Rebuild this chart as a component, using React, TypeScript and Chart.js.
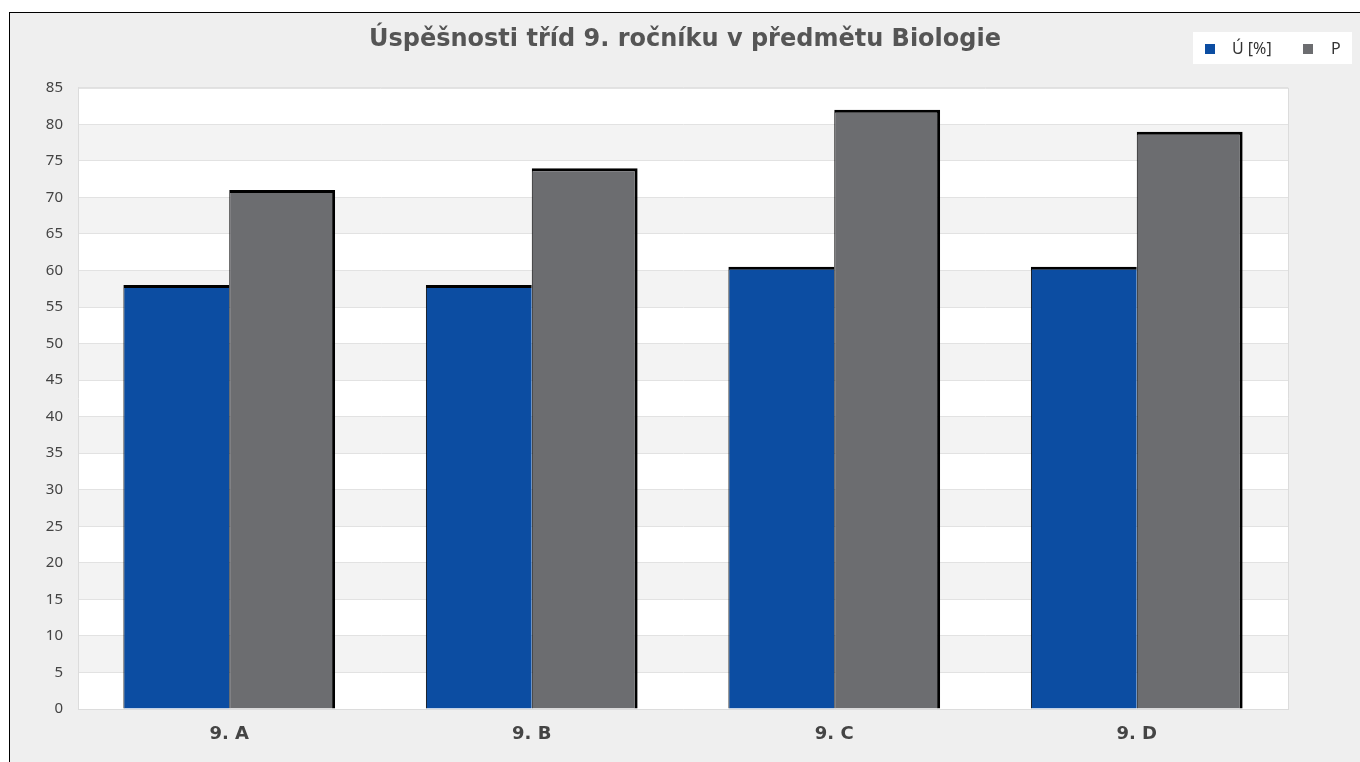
import React, { useEffect, useRef } from "react";
import { Chart, registerables } from "chart.js";

Chart.register(...registerables);

const categories = ["9. A", "9. B", "9. C", "9. D"];
const seriesU = [58, 58, 60.5, 60.5];
const seriesP = [71, 74, 82, 79];
const seriesLabels = ["Ú [%]", "P"];
const titleText = "Úspěšnosti tříd 9. ročníku v předmětu Biologie";

const bandsPlugin = {
  id: "bands",
  beforeDraw(chart: any) {
    const { ctx, chartArea, scales } = chart;
    const y = scales.y;
    ctx.save();
    for (let v = 0; v < 85; v += 5) {
      const top = y.getPixelForValue(v + 5);
      const bot = y.getPixelForValue(v);
      ctx.fillStyle = (v / 5) % 2 === 0 ? "#ffffff" : "#f3f3f3";
      ctx.fillRect(chartArea.left, top, chartArea.right - chartArea.left, bot - top);
    }
    ctx.restore();
  },
  afterDatasetsDraw(chart: any) {
    const { ctx, chartArea } = chart;
    ctx.save();
    ctx.strokeStyle = "#dcdcdc";
    ctx.lineWidth = 1;
    ctx.beginPath();
    ctx.moveTo(chartArea.right + 0.5, chartArea.top);
    ctx.lineTo(chartArea.right + 0.5, chartArea.bottom);
    ctx.moveTo(chartArea.left, chartArea.top + 0.5);
    ctx.lineTo(chartArea.right, chartArea.top + 0.5);
    ctx.stroke();
    ctx.restore();
  },
};

const legendPlugin = {
  id: "boxLegend",
  afterDraw(chart: any) {
    const { ctx } = chart;
    const ds = chart.data.datasets;
    ctx.save();
    ctx.fillStyle = "#ffffff";
    ctx.fillRect(1183, 19, 159, 32);
    ctx.font = "16px 'Noto Sans'";
    ctx.textBaseline = "middle";
    const squares = [1195, 1293];
    const texts = [1222, 1321];
    ds.forEach((d: any, i: number) => {
      ctx.fillStyle = d.backgroundColor;
      ctx.fillRect(squares[i], 31, 10, 10);
      ctx.fillStyle = "#333";
      ctx.fillText(d.label, texts[i], 36);
    });
    ctx.restore();
  },
};

export default function App() {
  const ref = useRef<HTMLCanvasElement>(null);
  useEffect(() => {
    if (!ref.current) return;
    const chart = new Chart(ref.current, {
      type: "bar",
      data: {
        labels: categories,
        datasets: [
          {
            label: seriesLabels[0],
            data: seriesU,
            backgroundColor: "#0c4da2",
            borderColor: "#000000",
            borderWidth: { top: 3, left: 1, right: 0, bottom: 0 },
            borderSkipped: false,
          },
          {
            label: seriesLabels[1],
            data: seriesP,
            backgroundColor: "#6c6d70",
            borderColor: "#000000",
            borderWidth: { top: 3, left: 1, right: 3, bottom: 0 },
            borderSkipped: false,
          },
        ],
      },
      plugins: [bandsPlugin, legendPlugin],
      options: {
        responsive: false,
        animation: false,
        layout: { padding: 0 },
        datasets: { bar: { categoryPercentage: 0.7, barPercentage: 1 } },
        plugins: {
          legend: { display: false },
          tooltip: { enabled: false },
          title: {
            display: true,
            text: titleText,
            color: "#555555",
            font: { family: "'DejaVu Sans'", size: 24, weight: "bold" },
            padding: { top: 12, bottom: 34 },
          },
        },
        scales: {
          x: {
            grid: { display: false, drawTicks: false },
            border: { display: true, color: "#dcdcdc" },
            ticks: {
              color: "#444444",
              padding: 15,
              font: { family: "'DejaVu Sans'", size: 18, weight: "bold" },
            },
            afterFit: (s: any) => {
              s.height = 53;
            },
          },
          y: {
            min: 0,
            max: 85,
            ticks: {
              stepSize: 5,
              color: "#444444",
              padding: 15,
              font: { family: "'Noto Sans'", size: 15 },
            },
            grid: { color: "#e2e2e2", drawTicks: false },
            border: { display: true, color: "#dcdcdc" },
            afterFit: (s: any) => {
              s.width = 68;
            },
          },
          y2: {
            position: "right",
            min: 0,
            max: 85,
            grid: { display: false, drawTicks: false },
            border: { display: false },
            ticks: { display: false },
            afterFit: (s: any) => {
              s.width = 72;
            },
          },
        },
      },
    } as any);
    return () => chart.destroy();
  }, []);
  return (
    <div
      style={{
        position: "absolute",
        left: 9,
        top: 12,
        width: 1351,
        height: 750,
        boxSizing: "border-box",
        borderLeft: "1px solid #000",
        borderTop: "1px solid #000",
        background: "#efefef",
        overflow: "hidden",
      }}
    >
      <canvas ref={ref} width={1350} height={749} style={{ display: "block" }} />
    </div>
  );
}
